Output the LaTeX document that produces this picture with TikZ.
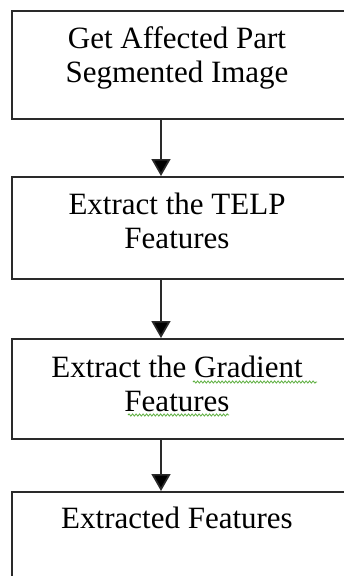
\documentclass[tikz,border=0pt]{standalone}
\usepackage{fontspec}
\setmainfont{Liberation Serif}
\usetikzlibrary{arrows.meta,decorations.pathmorphing}
\definecolor{linecol}{HTML}{2A2A2A}
\definecolor{squig}{HTML}{5AAE3C}
\tikzset{
  box/.style={draw=linecol, line width=1.7pt, fill=white, anchor=north west, minimum width=333pt, inner sep=0pt},
  txt/.style={font=\fontsize{31}{34}\selectfont, align=center, anchor=base, inner sep=0pt, text=black},
  flow/.style={draw=linecol, line width=1.7pt, -{Triangle[width=19pt,length=17pt,fill=black]}},
  squiggle/.style={draw=squig, line width=0.8pt, decorate, decoration={snake, amplitude=1.1pt, segment length=3.5pt}}
}
\begin{document}
\begin{tikzpicture}[x=1pt,y=-1pt]
\useasboundingbox (0,0) rectangle (343,576);
\node[box, minimum height=108pt] (b1) at (11,10) {};
\node[box, minimum height=102pt] (b2) at (11,176) {};
\node[box, minimum height=100pt] (b3) at (11,338) {};
\node[box, minimum height=110pt] (b4) at (11,491) {};
\node[txt] (t1) at (177,82) {Get Affected Part\\Segmented Image};
\node[txt] (t2) at (177,248) {Extract the TELP\\Features};
\node[txt] (t3) at (177,411) {Extract the Gradient\\Features};
\node[txt] (t4) at (177,528) {Extracted Features};
\coordinate (a1s) at (161,118); \coordinate (a1e) at (161,176);
\coordinate (a2s) at (161,278); \coordinate (a2e) at (161,338);
\coordinate (a3s) at (161,438); \coordinate (a3e) at (161,491);
\draw[flow] (a1s) -- (a1e);
\draw[flow] (a2s) -- (a2e);
\draw[flow] (a3s) -- (a3e);
\coordinate (s1a) at (193,382); \coordinate (s1b) at (317,382);
\coordinate (s2a) at (128,415); \coordinate (s2b) at (229,415);
\draw[squiggle] (s1a) -- (s1b);
\draw[squiggle] (s2a) -- (s2b);
\end{tikzpicture}
\end{document}
